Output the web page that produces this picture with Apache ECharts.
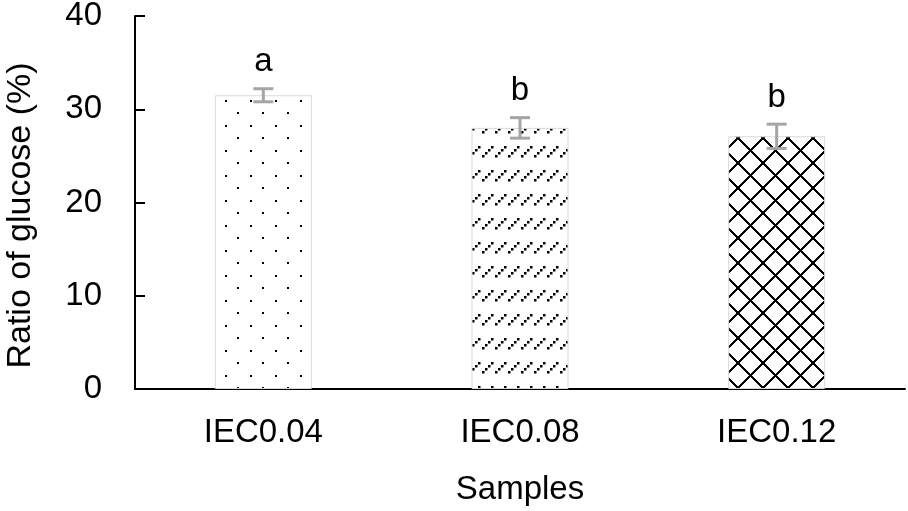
<!DOCTYPE html>
<html>
<head>
<meta charset="utf-8">
<script src="https://cdn.jsdelivr.net/npm/echarts@6/dist/echarts.min.js"></script>
<style>
  html, body { margin: 0; padding: 0; background: #fff; }
  #chart { width: 908px; height: 511px; }
</style>
</head>
<body>
<div id="chart"></div>
<script>
// data
var samples = ['IEC0.04', 'IEC0.08', 'IEC0.12'];
var ratio = [31.5, 28.0, 27.1];
var errors = [0.7, 1.1, 1.3];
var letters = ['a', 'b', 'b'];
var yTicks = [0, 10, 20, 30, 40];

// fill patterns, one tile per bar
function dots() {
    var c = document.createElement('canvas');
    c.width = 25; c.height = 25;
    var g = c.getContext('2d');
    g.fillStyle = '#000';
    g.fillRect(0, 0, 2, 2);
    g.fillRect(12, 12, 2, 2);
    return c;
}
function dashes() {
    var c = document.createElement('canvas');
    c.width = 13; c.height = 24;
    var g = c.getContext('2d');
    g.fillStyle = '#000';
    // short up-right dash made of little squares
    for (var i = 0; i < 4; i++) {
        g.fillRect(1 + i * 3, 11 - i * 3, 2.5, 2.5);
    }
    return c;
}
function lattice() {
    var c = document.createElement('canvas');
    c.width = 25; c.height = 25;
    var g = c.getContext('2d');
    g.fillStyle = '#000';
    for (var i = 0; i < 25; i++) {
        g.fillRect(i, i, 2, 2);
        g.fillRect(24 - i, i, 2, 2);
    }
    return c;
}
var fills = [dots(), dashes(), lattice()];

var font = 'Liberation Sans';
var chart = echarts.init(document.getElementById('chart'));

var option = {
    animation: false,
    backgroundColor: '#fff',
    grid: { left: 135, right: 3, top: 16, bottom: 122, outerBoundsMode: 'none', containLabel: false },
    xAxis: {
        type: 'category',
        data: samples,
        name: 'Samples',
        nameLocation: 'middle',
        nameGap: 84,
        nameTextStyle: { fontFamily: font, fontSize: 33, color: '#000' },
        axisLine: { lineStyle: { color: '#000', width: 2 } },
        axisTick: { show: false },
        axisLabel: { fontFamily: font, fontSize: 33, color: '#000', margin: 27 }
    },
    yAxis: {
        type: 'value',
        min: yTicks[0],
        max: yTicks[yTicks.length - 1],
        interval: 10,
        name: 'Ratio of glucose (%)',
        nameLocation: 'middle',
        nameGap: 97,
        nameTextStyle: { fontFamily: font, fontSize: 34, color: '#000', padding: [0, 26, 0, 0] },
        axisLine: { show: true, lineStyle: { color: '#000', width: 2 } },
        axisTick: { show: true, inside: true, length: 10, lineStyle: { color: '#000', width: 2 } },
        splitLine: { show: false },
        axisLabel: { fontFamily: font, fontSize: 33, color: '#000', margin: 33 }
    },
    series: [
        {
            type: 'bar',
            barWidth: 97,
            data: ratio.map(function (v, i) {
                return {
                    value: v,
                    itemStyle: {
                        color: { image: fills[i], repeat: 'repeat' },
                        borderColor: '#d9d9d9',
                        borderWidth: 1
                    }
                };
            }),
            z: 2
        },
        {
            type: 'custom',
            data: ratio.map(function (v, i) { return [i, v, errors[i]]; }),
            renderItem: function (params, api) {
                var x = api.value(0);
                var v = api.value(1);
                var e = api.value(2);
                var top = api.coord([x, v + e]);
                var bot = api.coord([x, v - e]);
                var half = 10;
                var st = { stroke: '#a5a5a5', lineWidth: 3 };
                return {
                    type: 'group',
                    children: [
                        { type: 'line', shape: { x1: top[0], y1: top[1], x2: bot[0], y2: bot[1] }, style: st },
                        { type: 'line', shape: { x1: top[0] - half, y1: top[1], x2: top[0] + half, y2: top[1] }, style: st },
                        { type: 'line', shape: { x1: bot[0] - half, y1: bot[1], x2: bot[0] + half, y2: bot[1] }, style: st },
                        {
                            type: 'text',
                            style: {
                                text: letters[params.dataIndex],
                                x: top[0], y: top[1] - 10,
                                align: 'center', verticalAlign: 'bottom',
                                font: '33px "Liberation Sans"', fill: '#000'
                            }
                        }
                    ]
                };
            },
            z: 3
        }
    ]
};

chart.setOption(option);
</script>
</body>
</html>
